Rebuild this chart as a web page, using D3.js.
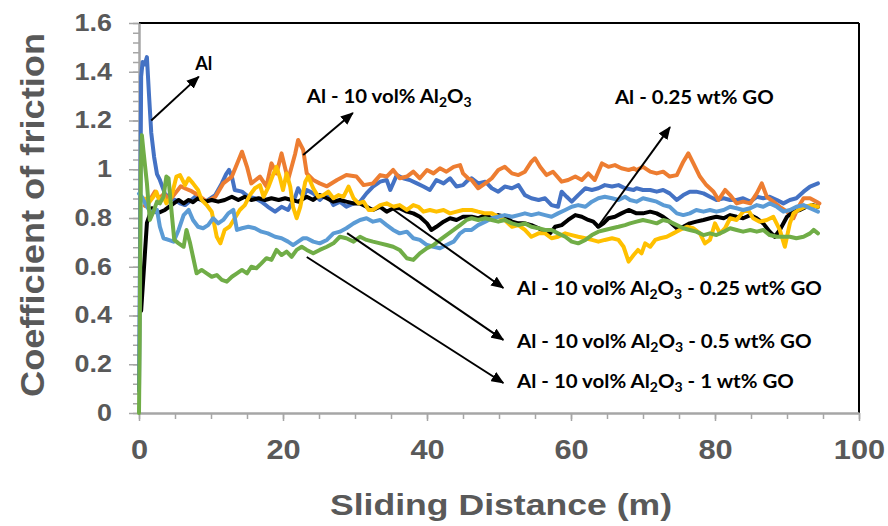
<!DOCTYPE html>
<html>
<head>
<meta charset="utf-8">
<script src="https://cdn.jsdelivr.net/npm/d3@7"></script>
<style>
  body { margin: 0; background: #fff; }
  svg { display: block; }
</style>
</head>
<body>
<script>
// Coefficient of friction vs sliding distance

var width = 888;
var height = 526;
var plotLeft = 139, plotRight = 859, plotTop = 23, plotBottom = 413;

var xTicks = [0, 20, 40, 60, 80, 100];
var yTicks = [0, 0.2, 0.4, 0.6, 0.8, 1, 1.2, 1.4, 1.6];
var yTickLabels = ["0", "0.2", "0.4", "0.6", "0.8", "1", "1.2", "1.4", "1.6"];

var seriesNames = ["Al", "Al - 10 vol% Al2O3", "Al - 0.25 wt% GO",
  "Al - 10 vol% Al2O3 - 0.25 wt% GO", "Al - 10 vol% Al2O3 - 0.5 wt% GO", "Al - 10 vol% Al2O3 - 1 wt% GO"];
var seriesColors = ["#4472c4", "#ed7d31", "#000000", "#ffc000", "#5b9bd5", "#70ad47"];

// [sliding distance (m), coefficient of friction]
var alPure = [[0,0.09],[0.15,0.7],[0.3,1.38],[0.5,1.44],[0.8,1.43],[1.1,1.46],[1.4,1.3],[1.7,1.15],[2.1,1.05],[2.5,0.98],[2.9,0.956],[3.6,0.9],[4.3,0.88],[5,0.874],[5.7,0.86],[6.4,0.853],[7.1,0.87],[7.8,0.887],[8.5,0.875],[9.2,0.867],[9.9,0.88],[10.6,0.894],[11.5,0.942],[12.1,0.98],[12.5,0.997],[12.9,0.97],[13.3,0.915],[14.3,0.908],[15.2,0.887],[16.1,0.881],[17,0.867],[17.9,0.846],[18.9,0.826],[19.8,0.846],[20.7,0.833],[21.7,0.887],[22.1,0.922],[22.8,0.887],[23.3,0.915],[24.2,0.901],[25.1,0.874],[26.1,0.901],[27,0.853],[27.9,0.867],[28.8,0.846],[29.8,0.86],[30.7,0.867],[31.6,0.901],[32.5,0.929],[33.5,0.949],[34.4,0.956],[34.9,0.915],[35.8,0.976],[36.7,0.963],[37.6,0.956],[38.6,0.942],[39.5,0.929],[40.4,0.915],[41.3,0.956],[42.3,0.942],[43.2,0.963],[44.1,0.929],[45,0.935],[45.7,0.956],[46.2,0.963],[47.1,0.942],[48.1,0.949],[49,0.922],[49.9,0.908],[50.8,0.929],[51.8,0.922],[52.7,0.935],[53.6,0.894],[54.5,0.881],[55.5,0.874],[56.4,0.881],[57.3,0.853],[58.2,0.846],[58.7,0.908],[59.4,0.887],[60.1,0.867],[61,0.894],[62,0.922],[62.9,0.915],[63.8,0.922],[64.7,0.935],[65.7,0.929],[66.6,0.935],[67.5,0.922],[68.7,0.915],[69.1,0.922],[70,0.915],[71,0.915],[71.9,0.908],[72.8,0.915],[73.7,0.901],[74.7,0.874],[75.6,0.894],[76.5,0.908],[77.4,0.908],[78.4,0.901],[79.3,0.887],[80.2,0.874],[81.2,0.881],[82.1,0.874],[83,0.874],[83.9,0.881],[84.9,0.867],[85.8,0.887],[86.7,0.881],[87.6,0.887],[88.6,0.874],[89.5,0.86],[90.4,0.874],[91.3,0.881],[92.3,0.908],[93.2,0.929],[94.3,0.942]];

var alAl2o3 = [[0.8,0.85],[1.5,0.874],[2.2,0.908],[2.8,0.88],[3.5,0.9],[4.2,0.87],[5,0.9],[5.8,0.93],[6.5,0.92],[7.3,0.91],[8.2,0.894],[9.4,0.867],[10.6,0.887],[11.7,0.942],[12.9,0.97],[14.3,1.072],[15,1.01],[15.6,0.942],[16.8,0.97],[17.7,0.93],[18.4,1.024],[19.1,0.983],[19.8,1.065],[20.7,0.956],[21.7,1.065],[22.1,1.12],[22.8,1.08],[23.3,0.983],[24.2,0.956],[25.1,0.942],[26.1,0.93],[27.5,0.956],[28.8,0.976],[30.2,0.97],[31.2,0.935],[32.5,0.942],[33.5,0.976],[34.4,0.97],[35.3,0.997],[36.2,0.963],[37.2,0.97],[38.1,0.99],[39,0.963],[40,0.997],[40.9,0.983],[41.8,1.004],[42.7,0.99],[43.7,1.01],[44.6,1.017],[45,0.983],[45.7,0.963],[46.2,0.956],[47.1,0.922],[48.1,0.942],[49,0.963],[49.9,0.997],[50.8,1.01],[51.8,0.983],[52.7,0.976],[53.6,0.99],[54.5,1.031],[55,1.045],[55.7,1.01],[56.6,0.976],[57.5,0.99],[58.7,0.949],[59.6,0.956],[60.6,0.97],[61.5,0.956],[62.4,0.983],[63.3,0.956],[64.3,1.024],[65.2,1.01],[66.1,1.017],[67,1.004],[68,0.997],[68.7,1.004],[69.1,0.997],[70,1.01],[71,0.99],[71.9,0.983],[72.8,0.99],[73.7,0.97],[74.7,0.976],[75.6,1.031],[76.3,1.065],[77,1.024],[77.9,0.97],[78.8,0.935],[79.8,0.908],[80.5,0.874],[81.4,0.915],[82.1,0.894],[83,0.86],[83.9,0.867],[84.9,0.86],[85.8,0.901],[86.5,0.942],[87.2,0.887],[88.1,0.867],[89,0.846],[90,0.826],[90.9,0.799],[91.6,0.846],[92.3,0.881],[93.2,0.881],[94.1,0.867],[94.5,0.86]];

var alGo = [[0.3,0.42],[0.7,0.6],[1.1,0.78],[1.8,0.84],[2.6,0.82],[3.6,0.833],[4.5,0.853],[5.5,0.874],[6.2,0.86],[6.9,0.874],[7.5,0.865],[8.2,0.881],[9.2,0.867],[10.1,0.874],[11,0.867],[11.9,0.874],[12.9,0.887],[13.8,0.874],[14.7,0.887],[15.6,0.874],[16.6,0.881],[17.5,0.874],[18.4,0.881],[19.4,0.874],[20.3,0.881],[21.2,0.874],[22.1,0.867],[23.3,0.887],[24.2,0.874],[25.1,0.894],[26.1,0.881],[27,0.867],[27.9,0.874],[28.8,0.867],[29.8,0.86],[30.7,0.86],[31.6,0.846],[32.5,0.833],[33.5,0.846],[34.4,0.826],[35.3,0.84],[36.2,0.84],[37.2,0.826],[38.1,0.819],[39,0.805],[40,0.778],[40.6,0.751],[41.3,0.764],[42.3,0.785],[43.2,0.799],[44.1,0.792],[45,0.805],[46.2,0.805],[47.1,0.799],[48.1,0.812],[49,0.799],[49.9,0.812],[50.8,0.805],[51.8,0.785],[52.7,0.778],[53.6,0.778],[54.5,0.771],[55.5,0.758],[56.4,0.744],[57.1,0.737],[57.8,0.764],[58.7,0.771],[59.6,0.792],[60.6,0.812],[61.5,0.805],[62.4,0.792],[63.1,0.785],[63.8,0.764],[64.5,0.778],[65.2,0.799],[66.1,0.805],[67,0.819],[68,0.833],[69.1,0.819],[70,0.819],[71,0.826],[71.9,0.819],[72.8,0.805],[73.7,0.785],[74.7,0.758],[75.6,0.764],[76.5,0.778],[77.4,0.785],[78.4,0.792],[79.3,0.799],[80.2,0.805],[81.2,0.799],[82.1,0.812],[83,0.805],[83.9,0.799],[84.9,0.812],[85.8,0.799],[86.7,0.778],[87.6,0.744],[88.3,0.723],[89,0.751],[90,0.805],[90.9,0.826],[91.8,0.833],[92.7,0.846],[93.6,0.853],[94.3,0.846]];

var hybrid025 = [[0.8,0.88],[1.3,0.86],[2,0.887],[2.4,0.908],[2.9,0.867],[3.4,0.887],[3.8,0.86],[4.5,0.887],[5.2,0.97],[5.7,0.976],[6.4,0.935],[6.9,0.963],[7.5,0.942],[8.2,0.915],[8.7,0.874],[9.4,0.853],[10.1,0.826],[10.8,0.723],[11.3,0.696],[11.9,0.751],[12.6,0.765],[13.3,0.799],[14,0.833],[14.7,0.853],[15.4,0.894],[16.1,0.922],[16.8,0.935],[17.3,0.887],[18,0.929],[18.7,0.983],[19.1,1.01],[19.6,0.963],[20,0.915],[20.5,0.983],[21,0.929],[21.4,0.846],[21.9,0.799],[22.4,0.846],[23.1,0.949],[23.5,0.97],[24.2,0.922],[24.9,0.887],[25.6,0.894],[26.3,0.908],[27,0.881],[27.7,0.894],[28.4,0.887],[29.1,0.929],[29.8,0.881],[30.5,0.86],[31.2,0.867],[31.9,0.833],[32.5,0.833],[33.5,0.853],[34.4,0.86],[35.3,0.846],[36.2,0.853],[37.2,0.833],[38.1,0.853],[38.8,0.846],[39.5,0.826],[40.4,0.833],[41.3,0.826],[42.3,0.833],[43.2,0.819],[44.1,0.826],[45,0.833],[46.2,0.833],[47.1,0.826],[48.1,0.819],[49,0.819],[49.9,0.805],[50.8,0.792],[51.8,0.764],[52.7,0.771],[53.6,0.751],[54.5,0.723],[55.5,0.737],[56.4,0.737],[57.3,0.717],[58.2,0.723],[59.2,0.737],[60.1,0.73],[61,0.723],[62,0.717],[62.9,0.71],[63.8,0.703],[64.7,0.71],[65.7,0.717],[66.6,0.71],[67.3,0.682],[68,0.621],[68.7,0.648],[69.3,0.669],[69.8,0.655],[70.3,0.696],[71,0.682],[71.7,0.71],[72.4,0.717],[73.3,0.723],[74.2,0.737],[75.1,0.751],[76.1,0.764],[77,0.758],[77.9,0.737],[78.6,0.696],[79.3,0.71],[80,0.778],[80.7,0.737],[81.4,0.758],[82.1,0.799],[83,0.792],[83.9,0.826],[84.6,0.833],[85.3,0.799],[86.2,0.785],[87.2,0.792],[88.1,0.805],[89,0.751],[89.7,0.682],[90.4,0.778],[90.9,0.819],[91.6,0.833],[92.5,0.846],[93.4,0.853],[94.3,0.846]];

var hybrid05 = [[0,0.9],[0.4,0.887],[1.1,0.846],[1.8,0.819],[2.5,0.833],[2.9,0.764],[3.4,0.717],[4.1,0.71],[4.8,0.703],[5.5,0.751],[6.2,0.812],[6.9,0.833],[7.5,0.792],[8.2,0.764],[8.9,0.758],[9.6,0.771],[10.3,0.799],[11,0.778],[11.7,0.792],[12.4,0.819],[13.1,0.833],[13.6,0.751],[14.3,0.758],[15.2,0.764],[16.1,0.758],[17,0.744],[17.9,0.737],[18.9,0.723],[19.8,0.717],[20.7,0.703],[21.4,0.689],[22.1,0.703],[22.8,0.717],[23.3,0.717],[24.2,0.703],[25.1,0.696],[26.1,0.71],[27,0.737],[27.9,0.744],[28.8,0.758],[29.8,0.778],[30.7,0.792],[31.6,0.799],[32.5,0.785],[33.5,0.792],[34.4,0.771],[35.3,0.751],[36.2,0.737],[37.2,0.744],[38.1,0.717],[39,0.71],[40,0.689],[40.9,0.682],[41.8,0.676],[42.7,0.689],[43.7,0.703],[44.6,0.737],[45.3,0.751],[46.2,0.751],[47.1,0.771],[48.1,0.785],[49,0.799],[49.9,0.805],[50.8,0.812],[51.8,0.805],[52.7,0.812],[53.6,0.819],[54.5,0.812],[55.5,0.819],[56.4,0.812],[57.3,0.805],[58.2,0.819],[59.2,0.833],[60.1,0.846],[61,0.853],[62,0.846],[62.9,0.867],[63.8,0.881],[64.7,0.887],[65.7,0.881],[66.6,0.874],[67.5,0.887],[68.2,0.874],[69.1,0.867],[70,0.881],[71,0.874],[71.9,0.867],[72.8,0.853],[73.7,0.846],[74.7,0.819],[75.6,0.812],[76.5,0.819],[77.4,0.833],[78.4,0.826],[79.3,0.833],[80.2,0.826],[81.2,0.833],[82.1,0.846],[83,0.84],[83.9,0.833],[84.9,0.84],[85.8,0.853],[86.7,0.846],[87.6,0.86],[88.6,0.846],[89.5,0.826],[90.4,0.833],[91.3,0.846],[92.3,0.853],[93.2,0.84],[94.3,0.826]];

var hybrid1 = [[0,0.0],[0.1,0.3],[0.25,1.0],[0.4,1.14],[0.6,1.08],[1.1,0.942],[1.5,0.792],[2,0.826],[2.5,0.867],[2.9,0.86],[3.4,0.887],[3.8,0.97],[4.1,0.963],[4.5,0.833],[4.9,0.71],[5.5,0.696],[6.2,0.682],[6.6,0.751],[7.1,0.696],[7.5,0.641],[8,0.573],[8.7,0.587],[9.4,0.573],[10.1,0.559],[10.8,0.566],[11.5,0.546],[12.2,0.539],[12.9,0.559],[13.6,0.573],[14.3,0.587],[15,0.573],[15.6,0.6],[16.3,0.594],[17,0.614],[17.7,0.635],[18.4,0.628],[19.1,0.669],[19.8,0.648],[20.5,0.662],[21.2,0.641],[21.9,0.669],[22.6,0.682],[23.3,0.669],[24.2,0.655],[25.1,0.669],[26.1,0.682],[27,0.696],[27.9,0.723],[28.8,0.717],[29.8,0.703],[30.7,0.723],[31.6,0.71],[32.5,0.703],[33.5,0.696],[34.4,0.689],[35.3,0.682],[36.2,0.669],[37.2,0.635],[38.1,0.628],[39,0.655],[40,0.676],[40.9,0.689],[41.8,0.71],[42.7,0.73],[43.7,0.751],[44.6,0.771],[45.5,0.792],[46.2,0.799],[47.1,0.792],[48.1,0.799],[49,0.792],[49.9,0.785],[50.8,0.792],[51.8,0.778],[52.7,0.771],[53.6,0.778],[54.5,0.764],[55.5,0.758],[56.4,0.751],[57.3,0.751],[58.2,0.737],[59.2,0.723],[60.1,0.703],[61,0.696],[62,0.71],[62.9,0.73],[63.8,0.744],[64.7,0.751],[65.7,0.758],[66.6,0.764],[67.5,0.771],[68.2,0.778],[69.1,0.785],[70,0.792],[71,0.785],[71.9,0.778],[72.8,0.792],[73.7,0.785],[74.7,0.771],[75.6,0.758],[76.5,0.751],[77.4,0.744],[78.4,0.73],[79.3,0.737],[80.2,0.73],[81.2,0.744],[82.1,0.758],[83,0.751],[83.9,0.744],[84.9,0.751],[85.8,0.744],[86.7,0.751],[87.6,0.73],[88.6,0.723],[89.5,0.723],[90.4,0.723],[91.3,0.717],[92.3,0.723],[93.2,0.737],[93.7,0.751],[94.3,0.737]];

var allSeries = [alPure, alAl2o3, alGo, hybrid025, hybrid05, hybrid1];

// annotation arrows in data units: [fromX, fromY, toX, toY]
var arrowLines = [
  [1.7, 1.20, 8.3, 1.38],
  [22.8, 1.058, 29.7, 1.231],
  [63.6, 0.759, 73.75, 1.173],
  [35.0, 0.841, 50.6, 0.513],
  [28.9, 0.738, 50.6, 0.30],
  [23.3, 0.64, 50.6, 0.123]
];
// annotation labels: text pieces ([text, isSubscript]), anchor in data units, width in px
var labelParts = [
  [["Al", 0]],
  [["Al - 10 vol% Al", 0], ["2", 1], ["O", 0], ["3", 1]],
  [["Al - 0.25 wt% GO", 0]],
  [["Al - 10 vol% Al", 0], ["2", 1], ["O", 0], ["3", 1], [" - 0.25 wt% GO", 0]],
  [["Al - 10 vol% Al", 0], ["2", 1], ["O", 0], ["3", 1], [" - 0.5 wt% GO", 0]],
  [["Al - 10 vol% Al", 0], ["2", 1], ["O", 0], ["3", 1], [" - 1 wt% GO", 0]]
];
var labelAnchors = [[7.8, 1.407], [23.3, 1.272], [66.1, 1.268], [52.5, 0.484], [52.5, 0.267], [52.5, 0.103]];
var labelWidths = [18, 166, 160, 306, 296, 278];

var xScale = d3.scaleLinear().domain([0, 100]).range([plotLeft, plotRight]);
var yScale = d3.scaleLinear().domain([0, 1.6]).range([plotBottom, plotTop]);

var svg = d3.select("body").append("svg")
  .attr("width", width)
  .attr("height", height);

var axisGray = "#a6a6a6";
var labelGray = "#595959";

// stretch a text element horizontally to a factor of its natural width
function stretch(sel, factor) {
  sel.each(function() {
    var w = this.getComputedTextLength();
    d3.select(this).attr("textLength", w * factor).attr("lengthAdjust", "spacingAndGlyphs");
  });
}

// frame (top and right)
svg.append("line").attr("x1", plotLeft).attr("x2", plotRight).attr("y1", plotTop).attr("y2", plotTop)
  .attr("stroke", "#000").attr("stroke-width", 2);
svg.append("line").attr("x1", plotRight).attr("x2", plotRight).attr("y1", plotTop).attr("y2", plotBottom)
  .attr("stroke", "#000").attr("stroke-width", 2);

// minor ticks
var yMinor = d3.range(0, 1.6001, 0.04);
var xMinor = d3.range(0, 100.001, 5);
svg.append("g")
  .attr("transform", "translate(" + plotLeft + ",0)")
  .call(d3.axisLeft(yScale).tickValues(yMinor).tickSize(6).tickFormat(""))
  .call(function(g) { g.select(".domain").remove(); g.selectAll("line").attr("stroke", axisGray).attr("stroke-width", 1.5); });
svg.append("g")
  .attr("transform", "translate(0," + plotBottom + ")")
  .call(d3.axisBottom(xScale).tickValues(xMinor).tickSize(6).tickFormat(""))
  .call(function(g) { g.select(".domain").remove(); g.selectAll("line").attr("stroke", axisGray).attr("stroke-width", 1.5); });

// major axes
var yAxis = d3.axisLeft(yScale).tickValues(yTicks).tickSizeInner(10).tickSizeOuter(0).tickPadding(17)
  .tickFormat(function(d, i) { return yTickLabels[i]; });
var gy = svg.append("g")
  .attr("transform", "translate(" + plotLeft + ",0)")
  .call(yAxis);
gy.select(".domain").attr("stroke", axisGray).attr("stroke-width", 2.5);
gy.selectAll(".tick line").attr("stroke", axisGray).attr("stroke-width", 1.5);
gy.selectAll(".tick text")
  .attr("fill", labelGray)
  .style("font-family", "'Liberation Sans', Arial, sans-serif")
  .style("font-weight", "bold")
  .style("font-size", "23px")
  .call(stretch, 1.17);

var xAxis = d3.axisBottom(xScale).tickValues(xTicks).tickSizeInner(8).tickSizeOuter(0).tickPadding(18);
var gx = svg.append("g")
  .attr("transform", "translate(0," + plotBottom + ")")
  .call(xAxis);
gx.select(".domain").attr("stroke", axisGray).attr("stroke-width", 2.5);
gx.selectAll(".tick line").attr("stroke", axisGray).attr("stroke-width", 1.5);
gx.selectAll(".tick text")
  .attr("fill", labelGray)
  .style("font-family", "'Liberation Sans', Arial, sans-serif")
  .style("font-weight", "bold")
  .style("font-size", "28px")
  .call(stretch, 1.1);

// axis titles
svg.append("text")
  .attr("transform", "translate(44," + ((33 + 397) / 2) + ") rotate(-90)")
  .attr("text-anchor", "middle")
  .attr("fill", labelGray)
  .style("font-family", "'Liberation Sans', Arial, sans-serif")
  .style("font-weight", "bold")
  .style("font-size", "33px")
  .attr("textLength", 364)
  .attr("lengthAdjust", "spacingAndGlyphs")
  .text("Coefficient of friction");

svg.append("text")
  .attr("x", 501)
  .attr("y", 515)
  .attr("text-anchor", "middle")
  .attr("fill", labelGray)
  .style("font-family", "'Liberation Sans', Arial, sans-serif")
  .style("font-weight", "bold")
  .style("font-size", "30px")
  .attr("textLength", 342)
  .attr("lengthAdjust", "spacingAndGlyphs")
  .text("Sliding Distance (m)");

// series
var line = d3.line()
  .x(function(d) { return xScale(d[0]); })
  .y(function(d) { return yScale(d[1]); });

svg.append("g").selectAll("path")
  .data(allSeries)
  .enter()
  .append("path")
  .attr("d", line)
  .attr("fill", "none")
  .attr("stroke", function(d, i) { return seriesColors[i]; })
  .attr("stroke-width", 4)
  .attr("stroke-linejoin", "round")
  .attr("stroke-linecap", "round");

// arrows
svg.append("defs").append("marker")
  .attr("id", "head")
  .attr("viewBox", "0 0 12 10")
  .attr("refX", 11)
  .attr("refY", 5)
  .attr("markerUnits", "userSpaceOnUse")
  .attr("markerWidth", 13)
  .attr("markerHeight", 11)
  .attr("orient", "auto")
  .append("path")
  .attr("d", "M0,0 L12,5 L0,10 Z")
  .attr("fill", "#000");

svg.append("g").selectAll("line")
  .data(arrowLines)
  .enter()
  .append("line")
  .attr("x1", function(d) { return xScale(d[0]); })
  .attr("y1", function(d) { return yScale(d[1]); })
  .attr("x2", function(d) { return xScale(d[2]); })
  .attr("y2", function(d) { return yScale(d[3]); })
  .attr("stroke", "#000")
  .attr("stroke-width", 2)
  .attr("marker-end", "url(#head)");

// labels
labelParts.forEach(function(parts, i) {
  var g = svg.append("g");
  var t = g.append("text")
    .attr("fill", "#000")
    .style("font-family", "Lato, 'Open Sans', sans-serif")
    .style("font-weight", "bold")
    .style("font-size", "19px");
  var shifted = false;
  parts.forEach(function(p) {
    var ts = t.append("tspan").text(p[0]);
    if (p[1] === 1) {
      ts.style("font-size", "13px").attr("dy", shifted ? 0 : 4);
      shifted = true;
    } else if (shifted) {
      ts.attr("dy", -4);
      shifted = false;
    }
  });
  var w = t.node().getBBox().width;
  g.attr("transform", "translate(" + xScale(labelAnchors[i][0]) + "," + yScale(labelAnchors[i][1]) + ") scale(" + (labelWidths[i] / w) + ",1)");
});
</script>
</body>
</html>
